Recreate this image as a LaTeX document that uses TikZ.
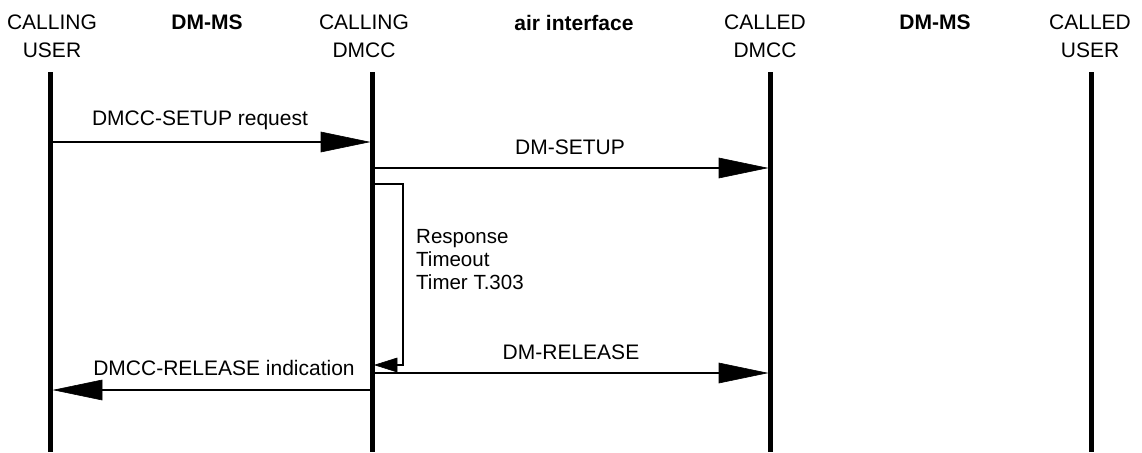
\documentclass[tikz,border=0pt]{standalone}
\usepackage{fontspec}
\setmainfont{Liberation Sans}
\usetikzlibrary{calc}
\begin{document}
\begin{tikzpicture}[x=1pt,y=-1pt,
  lbl/.style={font=\fontsize{21}{23}\selectfont, inner sep=0pt, anchor=center},
  hdr/.style={font=\fontsize{21}{28}\selectfont, inner sep=0pt, align=center, anchor=north},
  life/.style={line width=5pt},
  msg/.style={line width=2pt},
  bighead/.style={fill=black, draw=black, line width=0.6pt, line join=miter},
]
\useasboundingbox (0,0) rectangle (1142,452);
% headers
\node[hdr] (h1) at (52,15) {CALLING\\USER};
\node[hdr, font=\fontsize{21}{28}\selectfont\bfseries] (h2) at (207,15) {DM-MS};
\node[hdr] (h3) at (364,15) {CALLING\\DMCC};
\node[hdr, font=\fontsize{21}{28}\selectfont\bfseries] (h4) at (574,15) {air interface};
\node[hdr] (h5) at (765,15) {CALLED\\DMCC};
\node[hdr, font=\fontsize{21}{28}\selectfont\bfseries] (h6) at (935,15) {DM-MS};
\node[hdr] (h7) at (1090,15) {CALLED\\USER};
% lifelines
\coordinate (u1t) at (50,72);  \coordinate (u1b) at (50,452);
\coordinate (d1t) at (372,72); \coordinate (d1b) at (372,452);
\coordinate (d2t) at (770,72); \coordinate (d2b) at (770,452);
\coordinate (u2t) at (1091,72);\coordinate (u2b) at (1091,452);
\draw[life] (u1t) -- (u1b);
\draw[life] (d1t) -- (d1b);
\draw[life] (d2t) -- (d2b);
\draw[life] (u2t) -- (u2b);
% message 1
\coordinate (m1a) at (52,142); \coordinate (m1b) at (369,142);
\draw[msg] (m1a) -- ($(m1b)+(-48,0)$);
\fill[bighead] (m1b) -- ++(-48,-10) -- ++(0,20) -- cycle;
\node[lbl] (t1) at (200,120) {DMCC-SETUP request};
% message 2
\coordinate (m2a) at (374,168); \coordinate (m2b) at (767,168);
\draw[msg] (m2a) -- ($(m2b)+(-48,0)$);
\fill[bighead] (m2b) -- ++(-48,-10) -- ++(0,20) -- cycle;
\node[lbl] (t2) at (570,147) {DM-SETUP};
% timer
\coordinate (ta) at (374,184); \coordinate (tb) at (403,184);
\coordinate (tc) at (403,365); \coordinate (td) at (375,365);
\draw[msg, line join=miter] (ta) -- (tb) -- (tc) -- ($(td)+(22,0)$);
\fill[bighead] (td) -- ++(22,-7) -- ++(0,14) -- cycle;
\node[lbl, anchor=north west, align=left, font=\fontsize{20.5}{23}\selectfont] (t3) at (416,229) {Response\\Timeout\\Timer T.303};
% message 4
\coordinate (m4a) at (374,373); \coordinate (m4b) at (767,373);
\draw[msg] (m4a) -- ($(m4b)+(-48,0)$);
\fill[bighead] (m4b) -- ++(-48,-10) -- ++(0,20) -- cycle;
\node[lbl] (t4) at (571,352) {DM-RELEASE};
% message 5
\coordinate (m5a) at (370,390); \coordinate (m5b) at (54,390);
\draw[msg] (m5a) -- ($(m5b)+(48,0)$);
\fill[bighead] (m5b) -- ++(48,-10) -- ++(0,20) -- cycle;
\node[lbl] (t5) at (224,368) {DMCC-RELEASE indication};
\end{tikzpicture}
\end{document}
